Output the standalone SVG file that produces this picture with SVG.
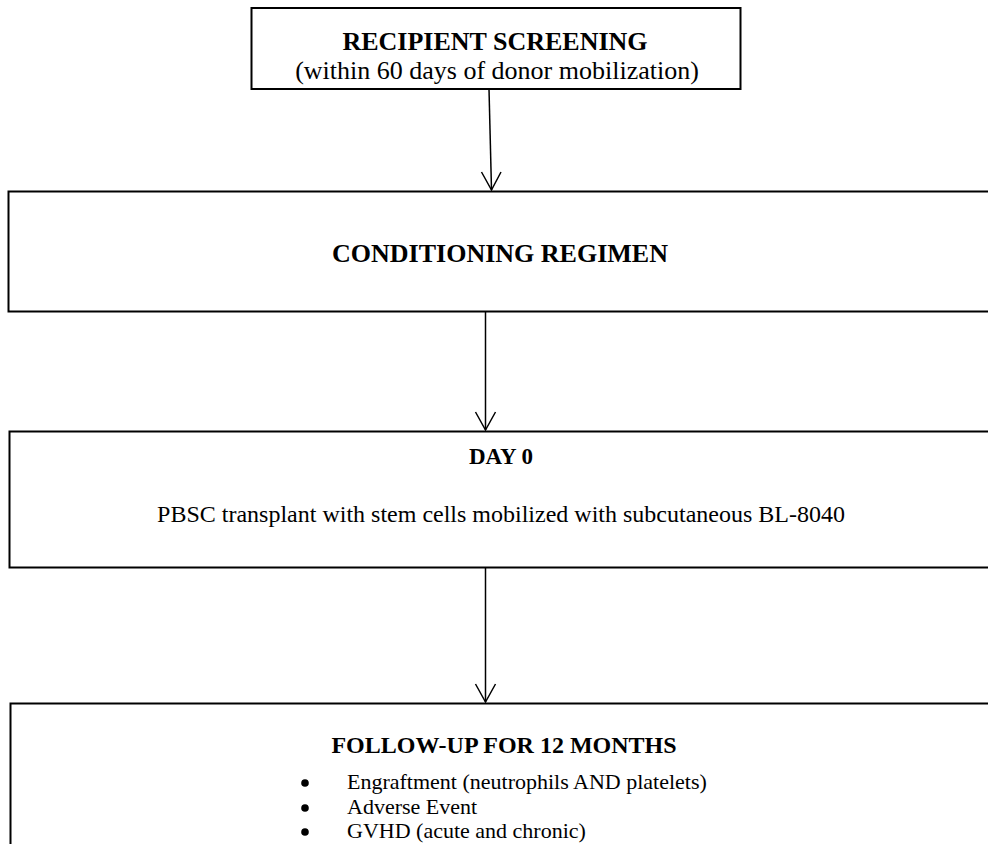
<svg xmlns="http://www.w3.org/2000/svg" width="988" height="844" viewBox="0 0 988 844">
<defs>
<style>
.box{fill:#fff;stroke:#000;stroke-width:2}
.t{font-family:"Liberation Serif","Times New Roman",serif;fill:#000;text-anchor:middle}
.b{font-weight:bold}
.l{font-family:"Liberation Serif","Times New Roman",serif;fill:#000;font-size:22px}
.c{stroke:#000;stroke-width:1.5;fill:none}
</style>
</defs>
<rect width="988" height="844" fill="#fff"/>
<g id="n1">
<rect class="box" x="251.5" y="8" width="489" height="81"/>
<text class="t b" x="495" y="50" font-size="26">RECIPIENT SCREENING</text>
<text class="t" x="497" y="79" font-size="26">(within 60 days of donor mobilization)</text>
</g>
<g id="n2">
<rect class="box" x="8.5" y="191.5" width="1000" height="120"/>
<text class="t b" x="500" y="262" font-size="26">CONDITIONING REGIMEN</text>
</g>
<g id="n3">
<rect class="box" x="9.5" y="431.5" width="1000" height="136" stroke-width="2.5"/>
<text class="t b" x="501" y="464" font-size="23">DAY 0</text>
<text class="t" x="501" y="522" font-size="24">PBSC transplant with stem cells mobilized with subcutaneous BL-8040</text>
</g>
<g id="n4">
<rect class="box" x="10.5" y="703.5" width="1000" height="200"/>
<text class="t b" x="504" y="753" font-size="24">FOLLOW-UP FOR 12 MONTHS</text>
<circle cx="305" cy="783" r="3.8"/>
<circle cx="305" cy="808" r="3.8"/>
<circle cx="305" cy="832" r="3.8"/>
<text class="l" x="347" y="789">Engraftment (neutrophils AND platelets)</text>
<text class="l" x="347" y="813.5">Adverse Event</text>
<text class="l" x="347" y="838">GVHD (acute and chronic)</text>
</g>
<g id="connectors">
<line class="c" x1="489" y1="89" x2="491.5" y2="190"/>
<line class="c" x1="485.5" y1="311.5" x2="485.5" y2="430"/>
<line class="c" x1="485.5" y1="568" x2="485.5" y2="702"/>
<path class="c" d="M481.5,172 L491.5,190 L501,172"/>
<path class="c" d="M475.5,412 L485.5,430 L495.5,412"/>
<path class="c" d="M475.5,684 L485.5,702 L495.5,684"/>
</g>
</svg>
